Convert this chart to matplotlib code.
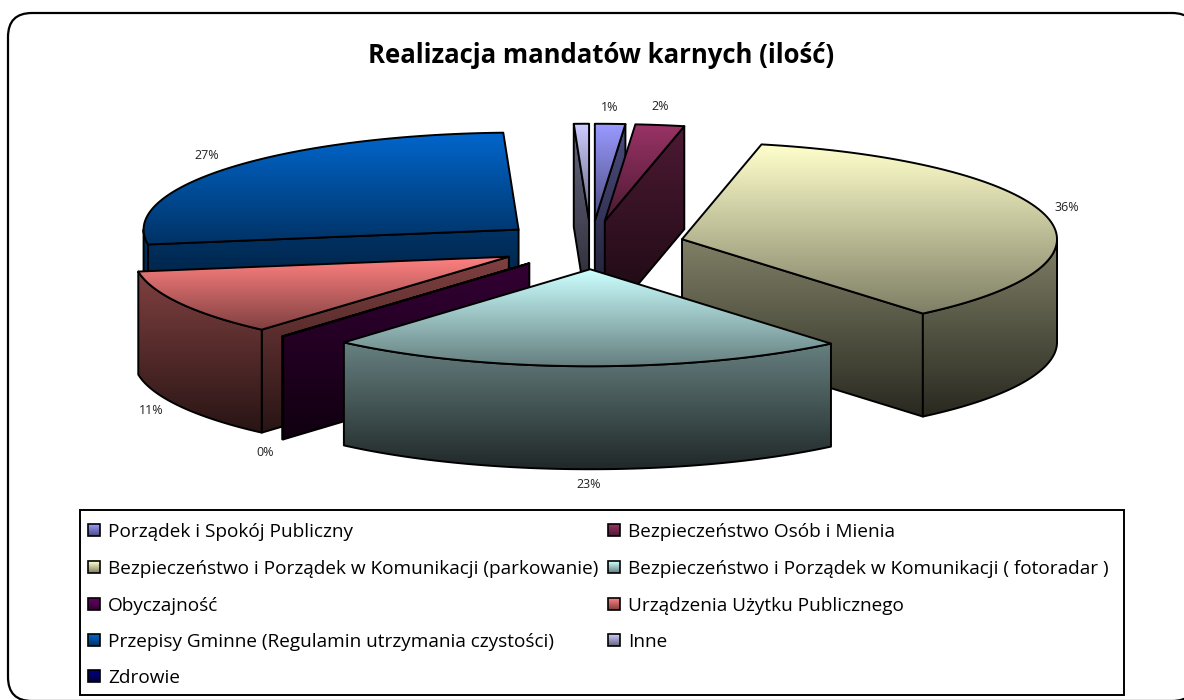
import numpy as np
import matplotlib
matplotlib.use('Agg')
import matplotlib.pyplot as plt
from matplotlib.colors import LinearSegmentedColormap, to_rgb
from matplotlib.patches import FancyBboxPatch, Polygon, Rectangle

# chart data, clockwise from 12 o'clock
categories = ['Porządek i Spokój Publiczny', 'Bezpieczeństwo Osób i Mienia',
              'Bezpieczeństwo i Porządek w Komunikacji (parkowanie)',
              'Bezpieczeństwo i Porządek w Komunikacji ( fotoradar )',
              'Obyczajność', 'Urządzenia Użytku Publicznego',
              'Przepisy Gminne (Regulamin utrzymania czystości)', 'Inne', 'Zdrowie']
shares = [1.3, 2.1, 35.5, 22.5, 0.05, 11.1, 26.8, 0.65, 0.0]
pct_labels = ['1%', '2%', '36%', '23%', '0%', '11%', '27%', '', '']
colors = ['#9999FF', '#993366', '#FFFFCC', '#CCFFFF', '#660066', '#FF8080', '#0066CC', '#CCCCFF', '#000080']
# painter's order, back to front
draw_order = [6, 7, 0, 1, 2, 5, 4, 3]
# label shift from the rim point, pixels
label_shift = [(0, -16), (0, -19), (21, -8), (2, 15), (-18, 13), (-29, 4), (-22, -13), (0, 0), (0, 0)]

# pie layout in pixels
cx, cy = 591, 245
rx, ry = 375, 97
depth = 103
explode = 0.25
lw = 1.4

plt.rcParams['font.family'] = ['Open Sans', 'DejaVu Sans']
fig = plt.figure(figsize=(11.84, 7), dpi=100)
ax = fig.add_axes([0, 0, 1, 1])
ax.axis('off')

z = [10]


def nextz():
    z[0] += 1
    return z[0]


def gradient_poly(pts, top, bottom):
    pts = np.array(pts)
    cmap = LinearSegmentedColormap.from_list('g', [top, bottom])
    y0, y1 = pts[:, 1].min(), pts[:, 1].max()
    x0, x1 = pts[:, 0].min(), pts[:, 0].max()
    zz = nextz()
    im = ax.imshow(np.linspace(0, 1, 64).reshape(-1, 1), extent=(x0, x1, y1, y0), aspect='auto',
                   cmap=cmap, vmin=0, vmax=1, zorder=zz)
    p = Polygon(pts, closed=True, fc='none', ec='black', lw=lw, joinstyle='round', zorder=zz + 0.5)
    ax.add_patch(p)
    im.set_clip_path(p)


def shade(c, k):
    return tuple(v * k for v in to_rgb(c))


def rim(apex, deg, drop=0):
    t = np.radians(deg)
    return apex[0] + rx * np.sin(t), apex[1] - ry * np.cos(t) + drop


# frame runs off the right and bottom of the picture
ax.add_patch(FancyBboxPatch((8, 13), 1188, 688, boxstyle='round,pad=0,rounding_size=24',
                            fc='white', ec='black', lw=1.6, zorder=1))

ang = np.cumsum([0] + shares) / sum(shares) * 360
apexes = []
for i in range(len(shares)):
    mid = np.radians((ang[i] + ang[i + 1]) / 2)
    apexes.append((cx + explode * rx * np.sin(mid), cy - explode * ry * np.cos(mid)))

for i in draw_order:
    a0, a1 = ang[i], ang[i + 1]
    apex = apexes[i]
    c = colors[i]
    wall_top, wall_bot = shade(c, 0.5), shade(c, 0.16)
    # radial faces
    if np.sin(np.radians(a1)) > 0:
        e = rim(apex, a1)
        gradient_poly([apex, e, (e[0], e[1] + depth), (apex[0], apex[1] + depth)], wall_top, wall_bot)
    if np.sin(np.radians(a0)) < 0:
        e = rim(apex, a0)
        gradient_poly([apex, e, (e[0], e[1] + depth), (apex[0], apex[1] + depth)], wall_top, wall_bot)
    # outer wall, front half only
    w0, w1 = max(a0, 90), min(a1, 270)
    if w1 > w0:
        th = np.linspace(w0, w1, 80)
        up = [rim(apex, t) for t in th]
        down = [rim(apex, t, depth) for t in th[::-1]]
        gradient_poly(up + down, wall_top, wall_bot)
    # top face
    th = np.linspace(a0, a1, 80)
    gradient_poly([apex] + [rim(apex, t) for t in th], c, shade(c, 0.5))

# percent labels
for i, lab in enumerate(pct_labels):
    if lab == '':
        continue
    mid = (ang[i] + ang[i + 1]) / 2
    front = 90 < mid < 270
    x, y = rim(apexes[i], mid, depth if front else 0)
    ax.text(x + label_shift[i][0], y + label_shift[i][1], lab, fontsize=9, ha='center', va='center',
            color='#222222', zorder=200)

ax.text(601, 63, 'Realizacja mandatów karnych (ilość)', fontsize=18.55, fontweight='bold',
        ha='center', va='baseline', color='black', zorder=200)

# legend
ax.add_patch(Rectangle((80, 510), 1044, 185, fc='white', ec='black', lw=1.4, zorder=150))
row_y = [530, 567, 604, 640, 676]
col_x = [88, 608]
for i, name in enumerate(categories):
    x = col_x[i % 2]
    y = row_y[i // 2]
    c = colors[i]
    cmap = LinearSegmentedColormap.from_list('g', [c, shade(c, 0.5)])
    ax.imshow(np.linspace(0, 1, 16).reshape(-1, 1), extent=(x, x + 12, y + 6, y - 6), aspect='auto',
              cmap=cmap, vmin=0, vmax=1, zorder=160)
    ax.add_patch(Rectangle((x, y - 6), 12, 12, fc='none', ec='black', lw=1.2, zorder=161))
    ax.text(x + 20, y + 7, name, fontsize=13.7, ha='left', va='baseline', color='black', zorder=161)

ax.set_xlim(0, 1184)
ax.set_ylim(700, 0)
fig.savefig('out.png', dpi=100, facecolor='white')
